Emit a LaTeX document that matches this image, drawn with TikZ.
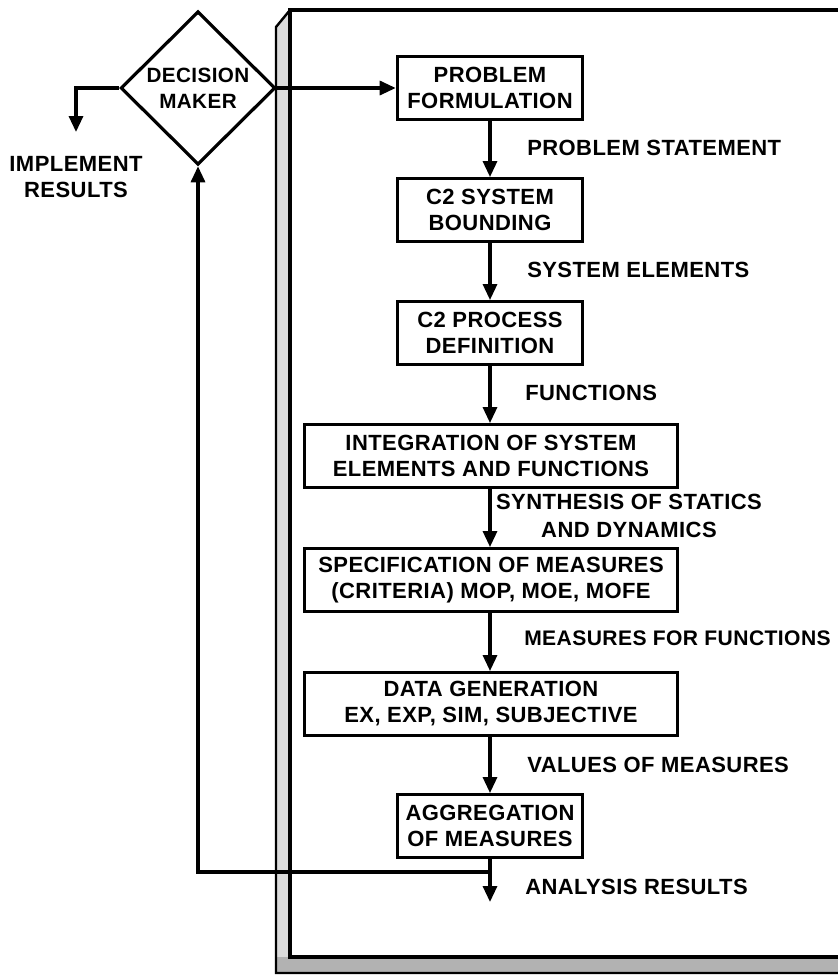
\documentclass[tikz,border=0pt]{standalone}
\usepackage{fontspec}
\setmainfont{Liberation Sans}[LetterSpace=2]
\usetikzlibrary{arrows.meta,shapes.geometric}
\begin{document}
\begin{tikzpicture}[x=0.75pt,y=-0.75pt,
  font=\fontsize{16.5}{19.5}\selectfont\bfseries,
  box/.style={draw,line width=2.4pt,minimum height=47pt,inner sep=0pt,align=center},
  sbox/.style={box,minimum width=139pt},
  wbox/.style={box,minimum width=280pt},
  flow/.style={line width=2.4pt,-{Triangle[length=12pt,width=10.5pt]}},
  lbl/.style={anchor=west,inner sep=0pt},
  ]
\useasboundingbox (0,0) rectangle (838,976);
% frame with shaded depth strip
\fill[black!14] (290,10) -- (276,27) -- (276,973) -- (838,973) -- (838,957) -- (290,957) -- cycle;
\fill[black!30] (276,957) -- (838,957) -- (838,973) -- (276,973) -- cycle;
\draw[line width=1.8pt] (290,10) -- (276,27) -- (276,973) -- (838,973);
\draw[line width=2.8pt] (838,10) -- (290,10) -- (290,957) -- (838,957);
% decision maker
\node[draw,diamond,line width=2.4pt,minimum width=116pt,minimum height=115pt,inner sep=0pt,align=center,font=\fontsize{15.5}{19.5}\selectfont\bfseries] (dm) at (198,88) {DECISION\\MAKER};
% boxes
\node[sbox] (pf) at (490,88) {PROBLEM\\FORMULATION};
\node[sbox] (sb) at (490,210) {C2 SYSTEM\\BOUNDING};
\node[sbox] (pd) at (490,333) {C2 PROCESS\\DEFINITION};
\node[wbox] (ig) at (491,456) {INTEGRATION OF SYSTEM\\ELEMENTS AND FUNCTIONS};
\node[wbox] (sp) at (491,580) {SPECIFICATION OF MEASURES\\(CRITERIA) MOP, MOE, MOFE};
\node[wbox] (dg) at (491,704) {DATA GENERATION\\EX, EXP, SIM, SUBJECTIVE};
\node[sbox] (ag) at (490,826) {AGGREGATION\\OF MEASURES};
% labels
\node[lbl] (l1) at (527,148) {PROBLEM STATEMENT};
\node[lbl] (l2) at (527,270) {SYSTEM ELEMENTS};
\node[lbl] (l3) at (525,393) {FUNCTIONS};
\node[align=center,inner sep=0pt] (l4) at (629,516) {SYNTHESIS OF STATICS\\[1pt]AND DYNAMICS};
\node[lbl,font=\fontsize{15.8}{19.5}\selectfont\bfseries] (l5) at (524,638) {MEASURES FOR FUNCTIONS};
\node[lbl] (l6) at (527,765) {VALUES OF MEASURES};
\node[lbl] (l7) at (525,887) {ANALYSIS RESULTS};
\node[align=center,inner sep=0pt] (implt) at (76,177) {IMPLEMENT\\RESULTS};
% connectors
\coordinate (impl) at (76,132);
\coordinate (ar) at (490,902);
\coordinate (fb) at (490,872);
\draw[flow] (dm.east) -- (pf.west);
\draw[flow] (dm.west) -| (impl);
\draw[flow] (pf.south) -- (sb.north);
\draw[flow] (sb.south) -- (pd.north);
\draw[flow] (pd.south) -- (pd.south |- ig.north);
\draw[flow] (pd.south |- ig.south) -- (pd.south |- sp.north);
\draw[flow] (pd.south |- sp.south) -- (pd.south |- dg.north);
\draw[flow] (pd.south |- dg.south) -- (ag.north);
\draw[flow] (ag.south) -- (ar);
\draw[flow] (fb) -| (dm.south);
\end{tikzpicture}
\end{document}
